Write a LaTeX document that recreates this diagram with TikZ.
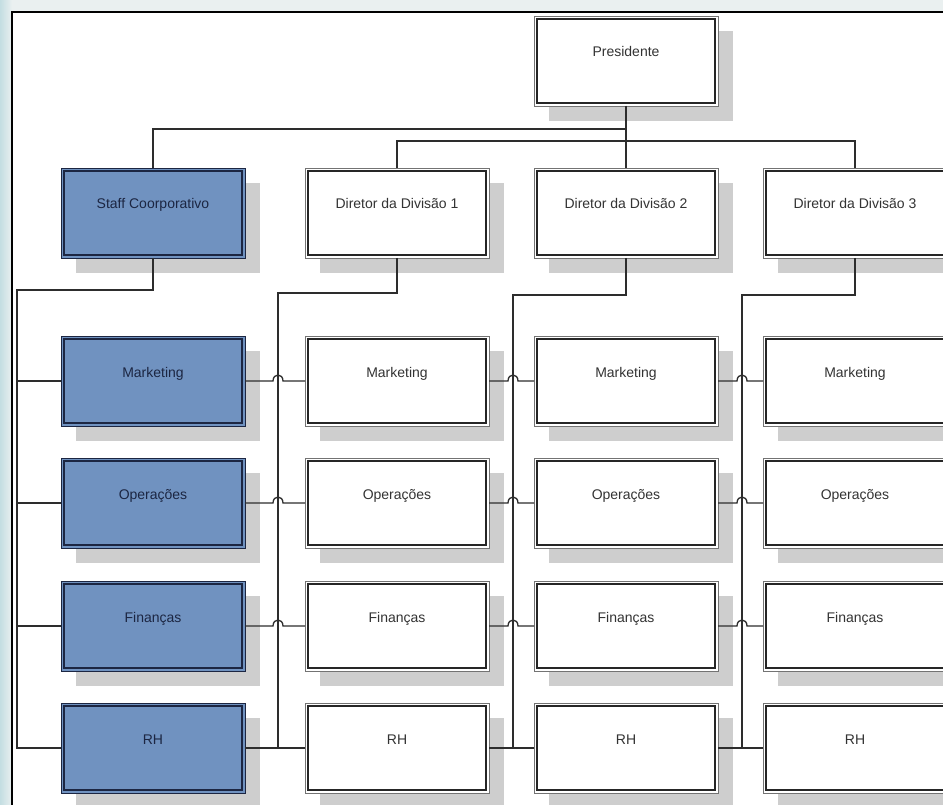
\documentclass[tikz,border=0pt]{standalone}
\usepackage{fontspec}
\setmainfont{Liberation Sans}
\usetikzlibrary{shadows,calc}
\definecolor{boxblue}{RGB}{112,146,192}
\definecolor{navy}{RGB}{28,38,66}
\definecolor{shadowgray}{RGB}{206,206,206}
\definecolor{linegray}{RGB}{45,45,45}
\definecolor{bgtop}{RGB}{234,240,240}
\definecolor{bgleft}{RGB}{196,222,226}
\begin{document}
\begin{tikzpicture}[x=1pt,y=-1pt,
  basebox/.style={rectangle, anchor=north west, minimum width=184pt, minimum height=90pt,
    inner sep=0pt, outer sep=0pt, text height=10pt, text depth=18pt, line width=0.8pt,
    font=\fontsize{14}{16}\selectfont,
    general shadow={fill=shadowgray, shadow xshift=15pt, shadow yshift=-15pt}},
  whitebox/.style={basebox, draw=black!55, fill=white, text=black!80},
  bluebox/.style={basebox, draw=navy, fill=boxblue, text=navy},
  innerline/.style={line width=1.7pt},
  conn/.style={draw=linegray, line width=1.3pt}]
\useasboundingbox (0,0) rectangle (943,805);
% background and frame
\fill[bgtop] (0,0) rectangle (943,805);
\shade[left color=bgleft, right color=bgtop] (0,0) rectangle (12,805);
\fill[white] (12,12) rectangle (943,805);
\draw[black, line width=1.3pt] (943,12) -- (12,12) -- (12,805);
% top level
\node[whitebox] (pres) at (534,16) {Presidente};
\node[bluebox] (staff) at (61,168) {Staff Coorporativo};
\node[whitebox] (d1) at (305,168) {Diretor da Divisão 1};
\node[whitebox] (d2) at (534,168) {Diretor da Divisão 2};
\node[whitebox] (d3) at (763,168) {Diretor da Divisão 3};
% function rows
\foreach \r/\t/\y in {1/Marketing/336, 2/Operações/458, 3/Finanças/581, 4/RH/703} {
  \node[bluebox] (n\r-1) at (61,\y) {\t};
  \node[whitebox] (n\r-2) at (305,\y) {\t};
  \node[whitebox] (n\r-3) at (534,\y) {\t};
  \node[whitebox] (n\r-4) at (763,\y) {\t};
}
% inner border lines (double frame look)
\foreach \n in {pres,d1,d2,d3,n1-2,n1-3,n1-4,n2-2,n2-3,n2-4,n3-2,n3-3,n3-4,n4-2,n4-3,n4-4} {
  \draw[innerline, black!85] ([shift={(3pt,-3pt)}]\n.north west) rectangle ([shift={(-3pt,3pt)}]\n.south east);
}
\foreach \n in {staff,n1-1,n2-1,n3-1,n4-1} {
  \draw[innerline, navy] ([shift={(3pt,-3pt)}]\n.north west) rectangle ([shift={(-3pt,3pt)}]\n.south east);
}
% junction coordinates
\coordinate (lb) at (17,748);
\coordinate (j1) at (278,748);
\coordinate (j2) at (513,748);
\coordinate (j3) at (742,748);
% president connectors
\draw[conn] (pres.south) -- (d2.north);
\draw[conn] (pres.south) -- ++(0,23) -| (staff.north);
\draw[conn] (d1.north) -- ++(0,-27) -| (d3.north);
% staff connectors
\draw[conn] (staff.south) -- ++(0,32) -| (lb) -- (n4-1.west);
\foreach \r in {1,2,3} { \draw[conn] (n\r-1.west) -- (n\r-1.west -| lb); }
% division drops
\draw[conn] (d1.south) -- ++(0,35) -| (j1);
\draw[conn] (d2.south) -- ++(0,37) -| (j2);
\draw[conn] (d3.south) -- ++(0,37) -| (j3);
% horizontal function links with hops
\foreach \r in {1,2,3} {
  \foreach \c/\j in {1/j1,2/j2,3/j3} {
    \pgfmathtruncatemacro\d{\c+1}
    \draw[conn] (n\r-\c.east) -- ($(n\r-\c.east -| \j)+(-5,0)$)
      .. controls +(0,-8) and +(0,-8) .. ($(n\r-\c.east -| \j)+(5,0)$) -- (n\r-\d.west);
  }
}
\foreach \c in {1,2,3} {
  \pgfmathtruncatemacro\d{\c+1}
  \draw[conn] (n4-\c.east) -- (n4-\d.west);
}
\end{tikzpicture}
\end{document}
